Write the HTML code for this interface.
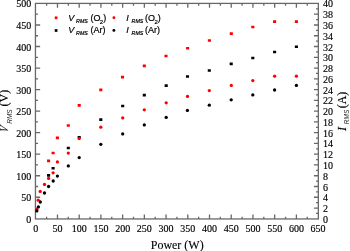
<!DOCTYPE html>
<html><head><meta charset="utf-8"><style>
html,body{margin:0;padding:0;background:#fff;width:350px;height:251px;overflow:hidden}
svg{display:block;will-change:transform}

</style></head><body><svg width="350" height="251" viewBox="0 0 350 251"><rect x="35.45" y="3.4" width="282.90" height="215.55" fill="none" stroke="#686868" stroke-width="1.3"/><path d="M46.61 218.95v-2.3M46.61 3.40v2.3M57.47 218.95v-4.4M57.47 3.40v4.4M68.33 218.95v-2.3M68.33 3.40v2.3M79.19 218.95v-4.4M79.19 3.40v4.4M90.05 218.95v-2.3M90.05 3.40v2.3M100.91 218.95v-4.4M100.91 3.40v4.4M111.77 218.95v-2.3M111.77 3.40v2.3M122.63 218.95v-4.4M122.63 3.40v4.4M133.49 218.95v-2.3M133.49 3.40v2.3M144.35 218.95v-4.4M144.35 3.40v4.4M155.21 218.95v-2.3M155.21 3.40v2.3M166.07 218.95v-4.4M166.07 3.40v4.4M176.93 218.95v-2.3M176.93 3.40v2.3M187.79 218.95v-4.4M187.79 3.40v4.4M198.65 218.95v-2.3M198.65 3.40v2.3M209.51 218.95v-4.4M209.51 3.40v4.4M220.37 218.95v-2.3M220.37 3.40v2.3M231.23 218.95v-4.4M231.23 3.40v4.4M242.09 218.95v-2.3M242.09 3.40v2.3M252.95 218.95v-4.4M252.95 3.40v4.4M263.81 218.95v-2.3M263.81 3.40v2.3M274.67 218.95v-4.4M274.67 3.40v4.4M285.53 218.95v-2.3M285.53 3.40v2.3M296.39 218.95v-4.4M296.39 3.40v4.4M307.25 218.95v-2.3M307.25 3.40v2.3M35.45 208.03h2.5999999999999996M35.45 197.27h4.7M35.45 186.50h2.5999999999999996M35.45 175.73h4.7M35.45 164.96h2.5999999999999996M35.45 154.19h4.7M35.45 143.43h2.5999999999999996M35.45 132.66h4.7M35.45 121.89h2.5999999999999996M35.45 111.12h4.7M35.45 100.36h2.5999999999999996M35.45 89.59h4.7M35.45 78.82h2.5999999999999996M35.45 68.05h4.7M35.45 57.29h2.5999999999999996M35.45 46.52h4.7M35.45 35.75h2.5999999999999996M35.45 24.98h4.7M35.45 14.22h2.5999999999999996M318.35 213.42h-2.3M318.35 208.03h-4.4M318.35 202.65h-2.3M318.35 197.27h-4.4M318.35 191.88h-2.3M318.35 186.50h-4.4M318.35 181.11h-2.3M318.35 175.73h-4.4M318.35 170.35h-2.3M318.35 164.96h-4.4M318.35 159.58h-2.3M318.35 154.19h-4.4M318.35 148.81h-2.3M318.35 143.43h-4.4M318.35 138.04h-2.3M318.35 132.66h-4.4M318.35 127.28h-2.3M318.35 121.89h-4.4M318.35 116.51h-2.3M318.35 111.13h-4.4M318.35 105.74h-2.3M318.35 100.36h-4.4M318.35 94.97h-2.3M318.35 89.59h-4.4M318.35 84.21h-2.3M318.35 78.82h-4.4M318.35 73.44h-2.3M318.35 68.05h-4.4M318.35 62.67h-2.3M318.35 57.29h-4.4M318.35 51.90h-2.3M318.35 46.52h-4.4M318.35 41.14h-2.3M318.35 35.75h-4.4M318.35 30.37h-2.3M318.35 24.99h-4.4M318.35 19.60h-2.3M318.35 14.22h-4.4M318.35 8.83h-2.3" stroke="#686868" stroke-width="1.3" fill="none"/><g font-family="Liberation Serif" font-size="10" fill="#000" stroke="#000" stroke-width="0.16"><text x="35.75" y="231.7" text-anchor="middle">0</text><text x="57.47" y="231.7" text-anchor="middle">50</text><text x="79.19" y="231.7" text-anchor="middle">100</text><text x="100.91" y="231.7" text-anchor="middle">150</text><text x="122.63" y="231.7" text-anchor="middle">200</text><text x="144.35" y="231.7" text-anchor="middle">250</text><text x="166.07" y="231.7" text-anchor="middle">300</text><text x="187.79" y="231.7" text-anchor="middle">350</text><text x="209.51" y="231.7" text-anchor="middle">400</text><text x="231.23" y="231.7" text-anchor="middle">450</text><text x="252.95" y="231.7" text-anchor="middle">500</text><text x="274.67" y="231.7" text-anchor="middle">550</text><text x="296.39" y="231.7" text-anchor="middle">600</text><text x="318.11" y="231.7" text-anchor="middle">650</text><text x="31.2" y="222.80" text-anchor="end">0</text><text x="31.2" y="201.27" text-anchor="end">50</text><text x="31.2" y="179.73" text-anchor="end">100</text><text x="31.2" y="158.19" text-anchor="end">150</text><text x="31.2" y="136.66" text-anchor="end">200</text><text x="31.2" y="115.12" text-anchor="end">250</text><text x="31.2" y="93.59" text-anchor="end">300</text><text x="31.2" y="72.05" text-anchor="end">350</text><text x="31.2" y="50.52" text-anchor="end">400</text><text x="31.2" y="28.98" text-anchor="end">450</text><text x="31.2" y="7.45" text-anchor="end">500</text><text x="322.9" y="222.80">0</text><text x="322.9" y="212.03">2</text><text x="322.9" y="201.27">4</text><text x="322.9" y="190.50">6</text><text x="322.9" y="179.73">8</text><text x="322.9" y="168.96">10</text><text x="322.9" y="158.19">12</text><text x="322.9" y="147.43">14</text><text x="322.9" y="136.66">16</text><text x="322.9" y="125.89">18</text><text x="322.9" y="115.13">20</text><text x="322.9" y="104.36">22</text><text x="322.9" y="93.59">24</text><text x="322.9" y="82.82">26</text><text x="322.9" y="72.05">28</text><text x="322.9" y="61.29">30</text><text x="322.9" y="50.52">32</text><text x="322.9" y="39.75">34</text><text x="322.9" y="28.99">36</text><text x="322.9" y="18.22">38</text><text x="322.9" y="7.45">40</text></g><text x="177.2" y="248.9" text-anchor="middle" font-family="Liberation Serif" font-size="12" stroke="#000" stroke-width="0.12">Power (W)</text><text transform="translate(8.2,133.0) rotate(-90) matrix(0.8,0,-0.25,1,0,0)" font-family="Liberation Serif" font-size="12" font-style="italic" stroke="#000" stroke-width="0.1">V</text><text transform="translate(12.2,123.8) rotate(-90)" font-family="Liberation Sans" font-size="6.5" font-style="italic" fill="#262626" stroke="#262626" stroke-width="0">RMS</text><text transform="translate(8.4,106.5) rotate(-90)" font-family="Liberation Serif" font-size="12" font-style="normal" fill="#000" stroke="#000" stroke-width="0.18">(V)</text><text transform="translate(345.9,131.0) rotate(-90)" font-family="Liberation Serif" font-size="12" font-style="italic" fill="#000" stroke="#000" stroke-width="0.18">I</text><text transform="translate(349.2,124.2) rotate(-90)" font-family="Liberation Sans" font-size="6.5" font-style="italic" fill="#262626" stroke="#262626" stroke-width="0">RMS</text><text transform="translate(345.5,108.3) rotate(-90)" font-family="Liberation Serif" font-size="12" font-style="normal" fill="#000" stroke="#000" stroke-width="0.18">(A)</text><path fill="#ff0000" d="M47.05 159.48h3.1v2.65h-3.1zM51.55 151.68h3.1v2.65h-3.1zM55.85 136.48h3.1v2.65h-3.1zM66.75 124.17h3.1v2.65h-3.1zM77.65 104.08h3.1v2.65h-3.1zM99.25 88.58h3.1v2.65h-3.1zM120.95 75.77h3.1v2.65h-3.1zM142.75 64.58h3.1v2.65h-3.1zM164.45 54.67h3.1v2.65h-3.1zM186.05 46.88h3.1v2.65h-3.1zM207.85 39.17h3.1v2.65h-3.1zM229.75 32.27h3.1v2.65h-3.1zM251.25 25.68h3.1v2.65h-3.1zM273.05 20.28h3.1v2.65h-3.1zM294.85 20.28h3.1v2.65h-3.1z"/><path fill="#000" d="M47.05 174.08h3.1v2.65h-3.1zM51.55 166.88h3.1v2.65h-3.1zM66.75 146.68h3.1v2.65h-3.1zM77.65 135.88h3.1v2.65h-3.1zM99.25 118.27h3.1v2.65h-3.1zM121.15 104.67h3.1v2.65h-3.1zM142.75 93.77h3.1v2.65h-3.1zM164.65 84.27h3.1v2.65h-3.1zM185.95 75.17h3.1v2.65h-3.1zM207.75 69.17h3.1v2.65h-3.1zM229.65 62.57h3.1v2.65h-3.1zM251.25 56.67h3.1v2.65h-3.1zM273.05 50.67h3.1v2.65h-3.1zM294.85 45.38h3.1v2.65h-3.1z"/><circle cx="36.90" cy="209.50" r="1.65" fill="#ff0000"/><circle cx="38.20" cy="200.20" r="1.65" fill="#ff0000"/><circle cx="40.20" cy="191.40" r="1.65" fill="#ff0000"/><circle cx="44.50" cy="184.40" r="1.65" fill="#ff0000"/><circle cx="48.60" cy="178.40" r="1.65" fill="#ff0000"/><circle cx="53.10" cy="172.80" r="1.65" fill="#ff0000"/><circle cx="57.40" cy="161.90" r="1.65" fill="#ff0000"/><circle cx="68.30" cy="153.10" r="1.65" fill="#ff0000"/><circle cx="79.20" cy="138.60" r="1.65" fill="#ff0000"/><circle cx="100.80" cy="127.20" r="1.65" fill="#ff0000"/><circle cx="122.70" cy="117.90" r="1.65" fill="#ff0000"/><circle cx="144.30" cy="109.80" r="1.65" fill="#ff0000"/><circle cx="166.20" cy="102.80" r="1.65" fill="#ff0000"/><circle cx="187.50" cy="96.40" r="1.65" fill="#ff0000"/><circle cx="209.30" cy="90.60" r="1.65" fill="#ff0000"/><circle cx="231.30" cy="85.40" r="1.65" fill="#ff0000"/><circle cx="252.80" cy="80.60" r="1.65" fill="#ff0000"/><circle cx="274.60" cy="76.20" r="1.65" fill="#ff0000"/><circle cx="296.40" cy="76.20" r="1.65" fill="#ff0000"/><circle cx="36.80" cy="210.90" r="1.65" fill="#000"/><circle cx="38.40" cy="206.90" r="1.65" fill="#000"/><circle cx="40.30" cy="202.00" r="1.65" fill="#000"/><circle cx="44.50" cy="193.00" r="1.65" fill="#000"/><circle cx="48.60" cy="186.50" r="1.65" fill="#000"/><circle cx="53.20" cy="181.00" r="1.65" fill="#000"/><circle cx="57.40" cy="176.10" r="1.65" fill="#000"/><circle cx="68.30" cy="165.90" r="1.65" fill="#000"/><circle cx="79.20" cy="157.60" r="1.65" fill="#000"/><circle cx="100.80" cy="144.30" r="1.65" fill="#000"/><circle cx="122.70" cy="133.90" r="1.65" fill="#000"/><circle cx="144.30" cy="124.90" r="1.65" fill="#000"/><circle cx="166.20" cy="117.40" r="1.65" fill="#000"/><circle cx="187.40" cy="110.40" r="1.65" fill="#000"/><circle cx="209.30" cy="105.20" r="1.65" fill="#000"/><circle cx="231.20" cy="99.80" r="1.65" fill="#000"/><circle cx="252.80" cy="94.90" r="1.65" fill="#000"/><circle cx="274.60" cy="90.00" r="1.65" fill="#000"/><circle cx="296.40" cy="85.40" r="1.65" fill="#000"/><rect x="54.75" y="16.45" width="2.7" height="2.7" fill="#ff0000"/><rect x="54.75" y="29.15" width="2.7" height="2.7" fill="#000"/><circle cx="113.9" cy="17.7" r="1.45" fill="#ff0000"/><circle cx="113.9" cy="30.4" r="1.45" fill="#000"/><text x="68.3" y="21.2" font-family="Liberation Sans" font-size="9" stroke="#000" stroke-width="0.2"><tspan font-style="italic">V</tspan><tspan font-style="italic" font-size="5.3" dy="2.0" dx="1.8">RMS</tspan><tspan dy="-2.0" dx="0"> (O<tspan font-size="6" dy="3.0" dx="-0.6">2</tspan><tspan dy="-3.0">)</tspan></tspan></text><text x="68.3" y="33.0" font-family="Liberation Sans" font-size="9" stroke="#000" stroke-width="0.2"><tspan font-style="italic">V</tspan><tspan font-style="italic" font-size="5.3" dy="2.0" dx="1.8">RMS</tspan><tspan dy="-2.0" dx="0"> (Ar)</tspan></text><text x="126.3" y="21.2" font-family="Liberation Sans" font-size="9" stroke="#000" stroke-width="0.2"><tspan font-style="italic">I</tspan><tspan font-style="italic" font-size="5.3" dy="2.0" dx="2.8">RMS</tspan><tspan dy="-2.0" dx="-0.8"> (O<tspan font-size="6" dy="3.0" dx="-0.6">2</tspan><tspan dy="-3.0">)</tspan></tspan></text><text x="126.3" y="33.0" font-family="Liberation Sans" font-size="9" stroke="#000" stroke-width="0.2"><tspan font-style="italic">I</tspan><tspan font-style="italic" font-size="5.3" dy="2.0" dx="2.8">RMS</tspan><tspan dy="-2.0" dx="-0.8"> (Ar)</tspan></text></svg></body></html>
